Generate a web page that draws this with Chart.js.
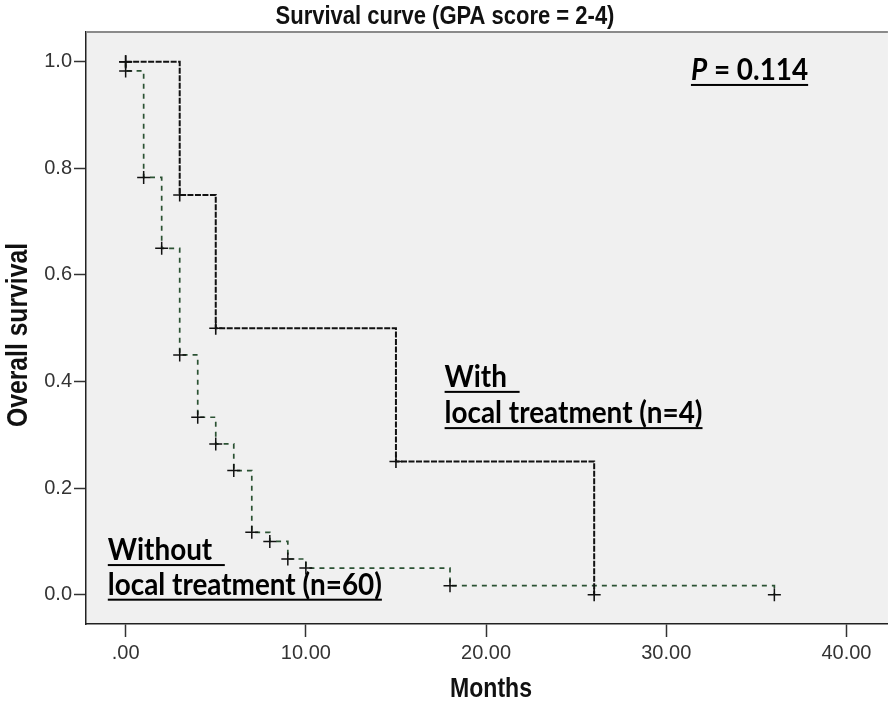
<!DOCTYPE html>
<html>
<head>
<meta charset="utf-8">
<script src="https://cdn.jsdelivr.net/npm/chart.js@4.4.0/dist/chart.umd.min.js"></script>
<style>
  html, body { margin: 0; padding: 0; background: #fff; overflow: hidden; }
  #wrap { width: 896px; height: 702px; }
</style>
</head>
<body>
<div id="wrap"><canvas id="km" width="896" height="702"></canvas></div>
<script>
// Kaplan-Meier steps
const withMonths = [0, 3, 5, 15, 26]
const withSurvival = [1.0, 0.75, 0.5, 0.25, 0.0]
const withoutMonths = [0, 0, 1, 2, 3, 4, 5, 6, 7, 8, 9, 10, 18, 36]
const withoutSurvival = [1.0, 0.983, 0.783, 0.65, 0.45, 0.333, 0.283, 0.233, 0.117, 0.1, 0.067, 0.05, 0.017, 0.0]

const xTicks = [0, 10, 20, 30, 40]
const xTickLabels = ['.00', '10.00', '20.00', '30.00', '40.00']
const yTicks = [0, 0.2, 0.4, 0.6, 0.8, 1.0]
const yTickLabels = ['0.0', '0.2', '0.4', '0.6', '0.8', '1.0']

const axisFont = '"Liberation Sans", Arial, sans-serif'
const noteFont = 'Lato, "Open Sans", sans-serif'

const toPoints = (xs, ys) => xs.map((x, i) => ({ x: x, y: ys[i] }))

// draw text squeezed horizontally so it fills a given width
function squeezed(ctx, text, weight, family, cx, cy, width, squeeze, angle) {
    ctx.save()
    ctx.font = weight + ' 100px ' + family
    const size = 100 * width / (ctx.measureText(text).width * squeeze)
    ctx.font = weight + ' ' + size + 'px ' + family
    ctx.translate(cx, cy)
    if (angle) ctx.rotate(angle)
    ctx.scale(squeeze, 1)
    ctx.textAlign = 'center'
    ctx.fillText(text, 0, 0)
    ctx.restore()
}

const kmFrame = {
    id: 'kmFrame',
    beforeDraw(chart) {
        const { ctx, chartArea: a } = chart
        ctx.save()
        ctx.fillStyle = '#f0f0f0'
        ctx.fillRect(a.left, a.top, a.right - a.left, a.bottom - a.top)
        ctx.restore()
    },
    afterDraw(chart) {
        const { ctx, chartArea: a } = chart
        const xs = chart.scales.x
        const ys = chart.scales.y
        ctx.save()
        // top border
        ctx.fillStyle = '#8a8a8a'
        ctx.fillRect(a.left, a.top - 1, a.right - a.left, 2)
        ctx.fillStyle = '#111'
        ctx.textBaseline = 'alphabetic'
        squeezed(ctx, 'Survival curve (GPA score = 2-4)', 'bold', axisFont, 445, 24, 339, 0.86)
        squeezed(ctx, 'Months', 'bold', axisFont, 491, 697, 82, 0.86)
        squeezed(ctx, 'Overall survival', 'bold', axisFont, 27, 335, 184, 0.86, -Math.PI / 2)
        ctx.restore()

        // notes, Calibri-like: a little squeezed
        const sq = 0.9
        ctx.save()
        ctx.fillStyle = '#000'
        ctx.textAlign = 'left'
        ctx.font = 'bold 100px ' + noteFont
        const size = 100 * 258 / (ctx.measureText('local treatment (n=4)').width * sq)
        const f = 'bold ' + size + 'px ' + noteFont

        const note = (parts, x, y, lineEnd) => {
            ctx.save()
            ctx.translate(x, y)
            ctx.scale(sq, 1)
            let cx = 0
            parts.forEach(p => {
                ctx.font = (p.italic ? 'italic ' : '') + f
                ctx.fillText(p.text, cx, 0)
                cx += ctx.measureText(p.text).width
            })
            ctx.restore()
            const w = lineEnd ? lineEnd : cx * sq
            ctx.fillRect(x, y + 4, w, 2)
        }

        let x0 = xs.getPixelForValue(17.7)
        note([{ text: 'With' }], x0, ys.getPixelForValue(0.39), 75)
        note([{ text: 'local treatment (n=4)' }], x0, ys.getPixelForValue(0.322))

        x0 = xs.getPixelForValue(-0.99)
        note([{ text: 'Without' }], x0, ys.getPixelForValue(0.065), 117)
        note([{ text: 'local treatment (n=60)' }], x0, ys.getPixelForValue(0.0))

        note([{ text: 'P', italic: true }, { text: ' = 0.114' }], xs.getPixelForValue(31.37), ys.getPixelForValue(0.966))
        ctx.restore()
    }
}

new Chart(document.getElementById('km'), {
    type: 'line',
    data: {
        datasets: [
            {
                label: 'With local treatment',
                data: toPoints(withMonths, withSurvival),
                stepped: true,
                borderColor: '#111',
                borderWidth: 2,
                borderDash: [6, 1.5],
                pointStyle: 'cross',
                pointRadius: 6.5,
                pointBorderWidth: 1.6,
                pointBorderColor: '#111',
                pointBackgroundColor: '#111',
                fill: false
            },
            {
                label: 'Without local treatment',
                data: toPoints(withoutMonths, withoutSurvival),
                stepped: true,
                borderColor: '#2b5233',
                borderWidth: 1.7,
                borderDash: [5, 5],
                pointStyle: 'cross',
                pointRadius: 6.5,
                pointBorderWidth: 1.5,
                pointBorderColor: '#111',
                pointBackgroundColor: '#111',
                fill: false
            }
        ]
    },
    options: {
        responsive: false,
        animation: false,
        devicePixelRatio: 1,
        layout: { padding: { top: 32, left: 0, right: 0, bottom: 0 } },
        scales: {
            x: {
                type: 'linear',
                min: -2.2,
                max: 42.3,
                afterBuildTicks: s => { s.ticks = xTicks.map(v => ({ value: v })) },
                afterFit: s => { s.height = 78 },
                ticks: {
                    autoSkip: false,
                    maxRotation: 0,
                    padding: 4,
                    color: '#333',
                    font: { family: axisFont, size: 20 },
                    callback: v => xTickLabels[xTicks.indexOf(v)]
                },
                grid: { drawOnChartArea: false, drawTicks: true, tickLength: 13, tickColor: '#333', tickWidth: 1.5 },
                border: { color: '#222', width: 1.5 }
            },
            y: {
                min: -0.055,
                max: 1.056,
                afterBuildTicks: s => { s.ticks = yTicks.map(v => ({ value: v })) },
                afterFit: s => { s.width = 86 },
                ticks: {
                    autoSkip: false,
                    padding: 2,
                    color: '#333',
                    font: { family: axisFont, size: 20 },
                    callback: v => yTickLabels[yTicks.indexOf(v)]
                },
                grid: { drawOnChartArea: false, drawTicks: true, tickLength: 12, tickColor: '#333', tickWidth: 1.5 },
                border: { color: '#222', width: 1.5 }
            }
        },
        plugins: {
            legend: { display: false },
            title: { display: false },
            tooltip: { enabled: false }
        }
    },
    plugins: [kmFrame]
})
</script>
</body>
</html>
